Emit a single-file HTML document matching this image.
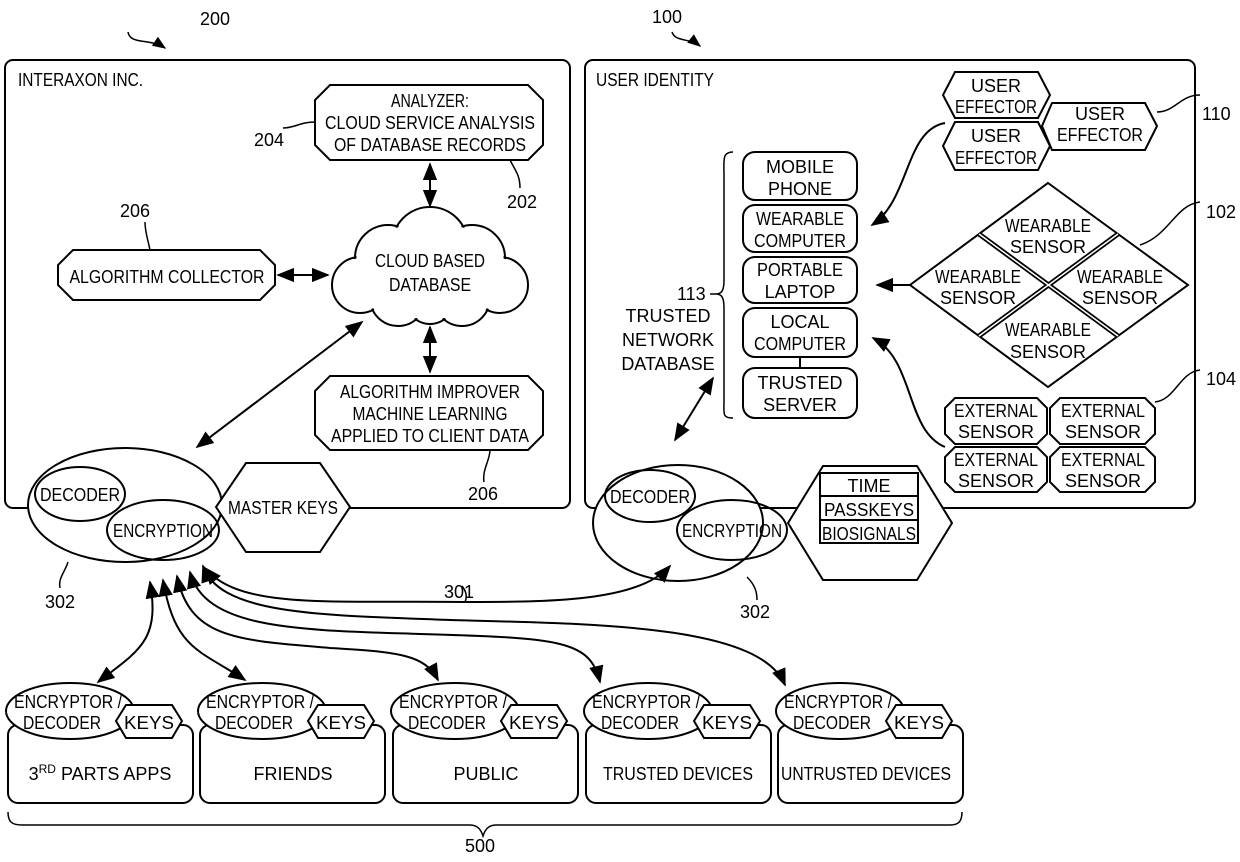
<!DOCTYPE html>
<html><head><meta charset="utf-8"><style>
html,body{margin:0;padding:0;background:#fff}
svg text{font-family:"Liberation Sans",sans-serif;font-size:18px;fill:#000}
</style></head><body>
<svg width="1240" height="857" viewBox="0 0 1240 857" xmlns="http://www.w3.org/2000/svg">
<defs>
<marker id="a" viewBox="0 0 10 10" refX="9" refY="5" markerWidth="9" markerHeight="9" orient="auto-start-reverse"><path d="M0,1 L10,5 L0,9 z" fill="#000"/></marker>
</defs>
<g fill="none" stroke="#000" stroke-width="2">
<rect x="5" y="60" width="565" height="448" rx="8"/>
<rect x="585" y="60" width="610" height="448" rx="8"/>
<path d="M128,32 C130,45 150,38 165,48" marker-end="url(#a)" stroke-width="1.5"/>
<path d="M672,32 C675,42 690,38 700,46" marker-end="url(#a)" stroke-width="1.5"/>
<polygon points="330,85 528,85 543,100 543,145 528,160 330,160 315,145 315,100" fill="#fff"/>
<polygon points="73,250 260,250 275,265 275,285 260,300 73,300 58,285 58,265" fill="#fff"/>
<polygon points="330,376 528,376 543,391 543,435 528,450 330,450 315,435 315,391" fill="#fff"/>
<path d="M283,128 C295,128 300,122 315,122" stroke-width="1.5"/>
<path d="M510,160 C515,170 520,175 520,188" stroke-width="1.5"/>
<path d="M145,222 C145,232 148,240 150,250" stroke-width="1.5"/>
<path d="M490,450 C490,460 482,470 484,482" stroke-width="1.5"/>
<line x1="430" y1="164" x2="430" y2="206" marker-start="url(#a)" marker-end="url(#a)"/>
<line x1="430" y1="327" x2="430" y2="372" marker-start="url(#a)" marker-end="url(#a)"/>
<line x1="278" y1="275" x2="328" y2="275" marker-start="url(#a)" marker-end="url(#a)"/>
<line x1="362" y1="322" x2="197" y2="447" marker-start="url(#a)" marker-end="url(#a)"/>
<g>
<circle cx="430" cy="245" r="38"/><circle cx="388" cy="258" r="33"/><circle cx="472" cy="258" r="33"/>
<circle cx="360" cy="285" r="28"/><circle cx="500" cy="285" r="28"/><circle cx="398" cy="298" r="28"/><circle cx="462" cy="298" r="28"/><circle cx="430" cy="300" r="24"/>
</g>
<g fill="#fff" stroke="none">
<circle cx="430" cy="245" r="36.5"/><circle cx="388" cy="258" r="31.5"/><circle cx="472" cy="258" r="31.5"/>
<circle cx="360" cy="285" r="26.5"/><circle cx="500" cy="285" r="26.5"/><circle cx="398" cy="298" r="26.5"/><circle cx="462" cy="298" r="26.5"/><circle cx="430" cy="300" r="22.5"/><circle cx="430" cy="275" r="45"/>
</g>
<ellipse cx="125" cy="505" rx="97" ry="57" fill="#fff"/>
<ellipse cx="80" cy="494" rx="45" ry="27"/>
<ellipse cx="163" cy="530" rx="56" ry="30"/>
<polygon points="246,463 320,463 350,507 320,552 246,552 216,507" fill="#fff"/>
<path d="M68,562 C65,572 58,578 60,588" stroke-width="1.5"/>
<ellipse cx="678" cy="523" rx="85" ry="58" fill="#fff"/>
<ellipse cx="650" cy="496" rx="45" ry="26"/>
<ellipse cx="732" cy="530" rx="55" ry="30"/>
<polygon points="823,466 917,466 952,523 917,580 823,580 788,523" fill="#fff"/>
<rect x="820" y="473" width="98" height="70"/>
<line x1="820" y1="496" x2="918" y2="496"/><line x1="820" y1="520" x2="918" y2="520"/>
<path d="M747,577 C755,585 757,592 757,600" stroke-width="1.5"/>
<path d="M205,568 C240,610 330,600 470,602 C560,602 640,600 670,566" marker-start="url(#a)" marker-end="url(#a)"/>
<path d="M465,602 C468,595 465,590 462,586" stroke-width="1.5"/>
<path d="M733,152 C722,152 724,160 724,175 L724,280 C724,290 722,294 716,294 C722,294 724,298 724,308 L724,400 C724,414 722,418 733,418" stroke-width="1.5"/>
<path d="M710,294 L716,294" stroke-width="1.5"/>
<rect x="743" y="152" width="114" height="48" rx="12"/>
<rect x="743" y="205" width="114" height="47" rx="12"/>
<rect x="743" y="257" width="114" height="46" rx="12"/>
<rect x="743" y="308" width="114" height="49" rx="12"/>
<rect x="743" y="368" width="114" height="50" rx="12"/>
<line x1="800" y1="357" x2="800" y2="368"/>
<line x1="713" y1="378" x2="675" y2="440" marker-start="url(#a)" marker-end="url(#a)"/>
<polygon points="955,72 1038,72 1050,95 1038,118 955,118 943,95" fill="#fff"/>
<polygon points="955,122 1038,122 1050,146 1038,170 955,170 943,146" fill="#fff"/>
<polygon points="1052,103 1145,103 1157,126 1145,150 1052,150 1042,126" fill="#fff"/>
<path d="M1157,112 C1175,112 1180,95 1200,95" stroke-width="1.5"/>
<path d="M945,123 C905,130 910,200 872,225" marker-end="url(#a)"/>
<polygon points="1048,183 1188,285 1048,387 910,285" fill="#fff"/>
<line x1="979" y1="234" x2="1118" y2="336" stroke-width="5"/>
<line x1="1118" y1="234" x2="979" y2="336" stroke-width="5"/>
<line x1="979" y1="234" x2="1118" y2="336" stroke="#fff" stroke-width="1.5"/>
<line x1="1118" y1="234" x2="979" y2="336" stroke="#fff" stroke-width="1.5"/>
<path d="M1140,245 C1170,235 1175,205 1200,202" stroke-width="1.5"/>
<line x1="910" y1="285" x2="877" y2="285" marker-end="url(#a)"/>
<polygon points="955,398 1037,398 1047,408 1047,434 1037,444 955,444 945,434 945,408" fill="#fff"/>
<polygon points="1060,398 1145,398 1155,408 1155,434 1145,444 1060,444 1050,434 1050,408" fill="#fff"/>
<polygon points="955,447 1037,447 1047,457 1047,482 1037,492 955,492 945,482 945,457" fill="#fff"/>
<polygon points="1060,447 1145,447 1155,457 1155,482 1145,492 1060,492 1050,482 1050,457" fill="#fff"/>
<path d="M1155,402 C1175,400 1180,372 1200,370" stroke-width="1.5"/>
<path d="M945,447 C905,430 915,360 873,338" marker-end="url(#a)"/>
<g id="bb">
<rect x="8" y="725" width="185" height="78" rx="10" fill="#fff"/>
<ellipse cx="70" cy="711" rx="64" ry="28" fill="#fff"/>
<polygon points="126,705 172,705 182,721 172,738 126,738 116,721" fill="#fff"/>
</g>
<use href="#bb" x="192"/><use href="#bb" x="385"/><use href="#bb" x="578"/><use href="#bb" x="770"/>
<path d="M150,582 C160,640 140,650 98,682" marker-start="url(#a)" marker-end="url(#a)"/>
<path d="M163,580 C175,650 200,650 245,680" marker-start="url(#a)" marker-end="url(#a)"/>
<path d="M177,576 C190,640 240,640 330,648 C400,652 425,655 438,680" marker-start="url(#a)" marker-end="url(#a)"/>
<path d="M190,572 C205,630 300,630 420,634 C560,638 590,640 600,682" marker-start="url(#a)" marker-end="url(#a)"/>
<path d="M203,566 C220,615 320,615 450,620 C600,624 760,625 785,685" marker-start="url(#a)" marker-end="url(#a)"/>
<path d="M8,812 C8,822 12,825 22,825 L470,825 C478,825 481,830 483,836 C485,830 488,825 496,825 L950,825 C958,825 962,822 962,812" stroke-width="1.5"/>
</g>
<text x="200" y="25">200</text>
<text x="652" y="23">100</text>
<text x="18" y="86" textLength="125" lengthAdjust="spacingAndGlyphs">INTERAXON INC.</text>
<text x="596" y="86" textLength="118" lengthAdjust="spacingAndGlyphs">USER IDENTITY</text>
<g text-anchor="middle">
<text x="430" y="107" textLength="78" lengthAdjust="spacingAndGlyphs">ANALYZER:</text>
<text x="430" y="129" textLength="210" lengthAdjust="spacingAndGlyphs">CLOUD SERVICE ANALYSIS</text>
<text x="430" y="151" textLength="192" lengthAdjust="spacingAndGlyphs">OF DATABASE RECORDS</text>
<text x="167" y="283" textLength="195" lengthAdjust="spacingAndGlyphs">ALGORITHM COLLECTOR</text>
<text x="430" y="267" textLength="110" lengthAdjust="spacingAndGlyphs">CLOUD BASED</text>
<text x="430" y="291" textLength="82" lengthAdjust="spacingAndGlyphs">DATABASE</text>
<text x="430" y="398" textLength="180" lengthAdjust="spacingAndGlyphs">ALGORITHM IMPROVER</text>
<text x="430" y="420" textLength="155" lengthAdjust="spacingAndGlyphs">MACHINE LEARNING</text>
<text x="430" y="442" textLength="198" lengthAdjust="spacingAndGlyphs">APPLIED TO CLIENT DATA</text>
<text x="80" y="501" textLength="80" lengthAdjust="spacingAndGlyphs">DECODER</text>
<text x="163" y="537" textLength="100" lengthAdjust="spacingAndGlyphs">ENCRYPTION</text>
<text x="283" y="514" textLength="110" lengthAdjust="spacingAndGlyphs">MASTER KEYS</text>
<text x="650" y="503" textLength="80" lengthAdjust="spacingAndGlyphs">DECODER</text>
<text x="732" y="537" textLength="100" lengthAdjust="spacingAndGlyphs">ENCRYPTION</text>
<text x="869" y="492" font-size="17">TIME</text>
<text x="869" y="516" font-size="17" textLength="90" lengthAdjust="spacingAndGlyphs">PASSKEYS</text>
<text x="869" y="540" font-size="17" textLength="94" lengthAdjust="spacingAndGlyphs">BIOSIGNALS</text>
<text x="800" y="173">MOBILE</text><text x="800" y="195">PHONE</text>
<text x="800" y="225" textLength="88" lengthAdjust="spacingAndGlyphs">WEARABLE</text><text x="800" y="247" textLength="92" lengthAdjust="spacingAndGlyphs">COMPUTER</text>
<text x="800" y="276" textLength="86" lengthAdjust="spacingAndGlyphs">PORTABLE</text><text x="800" y="298">LAPTOP</text>
<text x="800" y="328">LOCAL</text><text x="800" y="350" textLength="92" lengthAdjust="spacingAndGlyphs">COMPUTER</text>
<text x="800" y="389">TRUSTED</text><text x="800" y="411">SERVER</text>
<text x="668" y="322">TRUSTED</text><text x="668" y="346">NETWORK</text><text x="668" y="370">DATABASE</text>
<text x="996" y="92">USER</text><text x="996" y="113" textLength="82" lengthAdjust="spacingAndGlyphs">EFFECTOR</text>
<text x="996" y="142">USER</text><text x="996" y="164" textLength="82" lengthAdjust="spacingAndGlyphs">EFFECTOR</text>
<text x="1100" y="120">USER</text><text x="1100" y="141" textLength="86" lengthAdjust="spacingAndGlyphs">EFFECTOR</text>
<text x="1048" y="232" textLength="86" lengthAdjust="spacingAndGlyphs">WEARABLE</text><text x="1048" y="253">SENSOR</text>
<text x="978" y="283" textLength="86" lengthAdjust="spacingAndGlyphs">WEARABLE</text><text x="978" y="304">SENSOR</text>
<text x="1120" y="283" textLength="86" lengthAdjust="spacingAndGlyphs">WEARABLE</text><text x="1120" y="304">SENSOR</text>
<text x="1048" y="336" textLength="86" lengthAdjust="spacingAndGlyphs">WEARABLE</text><text x="1048" y="358">SENSOR</text>
<text x="996" y="417" textLength="84" lengthAdjust="spacingAndGlyphs">EXTERNAL</text><text x="996" y="438">SENSOR</text>
<text x="1103" y="417" textLength="84" lengthAdjust="spacingAndGlyphs">EXTERNAL</text><text x="1103" y="438">SENSOR</text>
<text x="996" y="466" textLength="84" lengthAdjust="spacingAndGlyphs">EXTERNAL</text><text x="996" y="487">SENSOR</text>
<text x="1103" y="466" textLength="84" lengthAdjust="spacingAndGlyphs">EXTERNAL</text><text x="1103" y="487">SENSOR</text>
<text x="480" y="852">500</text>
</g>
<text x="254" y="146">204</text>
<text x="507" y="208">202</text>
<text x="120" y="217">206</text>
<text x="468" y="500">206</text>
<text x="45" y="608">302</text>
<text x="740" y="618">302</text>
<text x="444" y="598">301</text>
<text x="677" y="300">113</text>
<text x="1202" y="120">110</text>
<text x="1206" y="218">102</text>
<text x="1206" y="385">104</text>
<g id="bt" text-anchor="middle" font-size="17">
<text x="68" y="708" font-size="17" textLength="108" lengthAdjust="spacingAndGlyphs">ENCRYPTOR /</text>
<text x="62" y="729" font-size="17" textLength="78" lengthAdjust="spacingAndGlyphs">DECODER</text>
<text x="149" y="729" font-size="17" textLength="50" lengthAdjust="spacingAndGlyphs">KEYS</text>
</g>
<use href="#bt" x="192"/><use href="#bt" x="385"/><use href="#bt" x="578"/><use href="#bt" x="770"/>
<g text-anchor="middle">
<text x="100" y="780">3<tspan font-size="12" dy="-7">RD</tspan><tspan dy="7"> PARTS APPS</tspan></text>
<text x="293" y="780">FRIENDS</text>
<text x="486" y="780">PUBLIC</text>
<text x="678" y="780" textLength="150" lengthAdjust="spacingAndGlyphs">TRUSTED DEVICES</text>
<text x="866" y="780" textLength="170" lengthAdjust="spacingAndGlyphs">UNTRUSTED DEVICES</text>
</g>
</svg>
</body></html>
